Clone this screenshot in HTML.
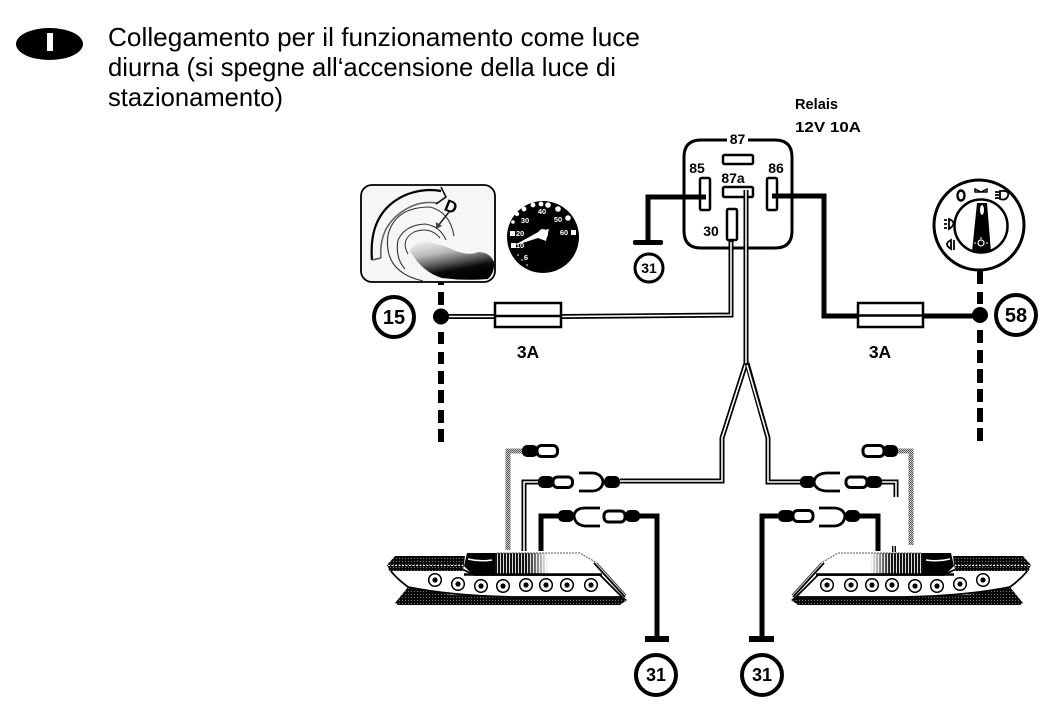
<!DOCTYPE html>
<html><head><meta charset="utf-8"><style>
html,body{margin:0;padding:0;background:#fff;width:1042px;height:716px;overflow:hidden}
svg{display:block}
text{font-family:"Liberation Sans",sans-serif;fill:#000}
.b{font-weight:bold}
.t{font-size:26px}
.w{fill:none;stroke:#000;stroke-width:5;stroke-linejoin:miter}
.wi{fill:none;stroke:#fff;stroke-width:1.6;stroke-linejoin:miter}
.th{fill:none;stroke:#000;stroke-width:5;stroke-linejoin:miter}
.o{fill:#fff;stroke:#000;stroke-width:3}
.f{fill:none;stroke:#000;stroke-width:2.8}
</style></head><body>
<svg width="1042" height="716" viewBox="0 0 1042 716" xmlns="http://www.w3.org/2000/svg">
<defs>
<pattern id="dg" width="2" height="2" patternUnits="userSpaceOnUse"><rect width="2" height="2" fill="#ccc"/><rect width="1" height="1" fill="#555"/><rect x="1" y="1" width="1" height="1" fill="#555"/></pattern>
<pattern id="dk" width="3" height="3" patternUnits="userSpaceOnUse"><rect width="3" height="3" fill="#0a0a0a"/><rect width="1" height="1" fill="#777"/></pattern>
<pattern id="hat" width="3" height="3" patternUnits="userSpaceOnUse"><rect width="3" height="3" fill="#ddd"/><rect width="2" height="3" fill="#111"/></pattern>
<linearGradient id="fade" x1="0" x2="1" y1="0" y2="0"><stop offset="0" stop-color="#fff" stop-opacity="0"/><stop offset=".6" stop-color="#fff" stop-opacity="0"/><stop offset="1" stop-color="#fff" stop-opacity="1"/></linearGradient>
<linearGradient id="key" x1="0.05" y1="0" x2="0.45" y2="1"><stop offset="0" stop-color="#f2f2f2"/><stop offset=".35" stop-color="#bbb"/><stop offset=".62" stop-color="#555"/><stop offset=".8" stop-color="#0a0a0a"/><stop offset="1" stop-color="#000"/></linearGradient>
<g id="lamp">
<path d="M395 603L408 587L452 595L515 596L622 596L627 600L620 605H398Z" fill="url(#dk)"/>
<path d="M390 570L464 570L474 575L600 575L622 597L515 597Q452 596 408 587Q396 578 390 570Z" fill="#fff" stroke="#000" stroke-width="1.800"/>
<path d="M395 556L465 556L463 571L390 571L387 565Z" fill="url(#dk)"/>
<path d="M388 565.500H463" stroke="#fff" stroke-width="1" stroke-dasharray="2 1.500"/>
<path d="M467 553L497 553L495 575L473 575L464 566Z" fill="#000"/>
<path d="M468 559Q480 562 492 560" fill="none" stroke="#fff" stroke-width="1.500"/>
<rect x="495" y="553" width="53" height="21" fill="url(#hat)"/>
<rect x="495" y="553" width="53" height="21" fill="url(#fade)"/>
<path d="M497 553L580 553L597 563" fill="none" stroke="#555" stroke-width="1" stroke-dasharray="2 1"/>
<path d="M464 574.500L602 574.500" stroke="#000" stroke-width="2.400"/>
<path d="M594 563L625 597" stroke="#000" stroke-width="1.800"/>
<path d="M597 563L626 595" stroke="#444" stroke-width="1"/>
<g fill="#fff" stroke="#000" stroke-width="1.500">
<circle cx="435" cy="580" r="6.300"/><circle cx="458" cy="584" r="6.300"/><circle cx="481" cy="586" r="6.300"/><circle cx="503" cy="586" r="6.300"/><circle cx="526" cy="585" r="6.300"/><circle cx="546" cy="585" r="6.300"/><circle cx="567" cy="585" r="6.300"/><circle cx="591" cy="585" r="6.300"/>
</g>
<g fill="#000">
<circle cx="435" cy="580" r="2.600"/><circle cx="458" cy="584" r="2.600"/><circle cx="481" cy="586" r="2.600"/><circle cx="503" cy="586" r="2.600"/><circle cx="526" cy="585" r="2.600"/><circle cx="546" cy="585" r="2.600"/><circle cx="567" cy="585" r="2.600"/><circle cx="591" cy="585" r="2.600"/>
</g>
</g>
</defs>
<rect width="1042" height="716" fill="#fff"/>

<!-- Heading -->
<ellipse cx="49.5" cy="44" rx="33.5" ry="16" fill="#000"/>
<rect x="47" y="33" width="6" height="18" fill="#fff"/>
<text class="t" x="108" y="46" textLength="532" lengthAdjust="spacingAndGlyphs">Collegamento per il funzionamento come luce</text>
<text class="t" x="108" y="76" textLength="508" lengthAdjust="spacingAndGlyphs">diurna (si spegne all‘accensione della luce di</text>
<text class="t" x="108" y="106" textLength="175" lengthAdjust="spacingAndGlyphs">stazionamento)</text>

<!-- Relay -->
<text class="b" x="795" y="109" font-size="15" textLength="43" lengthAdjust="spacingAndGlyphs">Relais</text>
<text class="b" x="795" y="132" font-size="15" textLength="66" lengthAdjust="spacingAndGlyphs">12V 10A</text>
<path d="M727 140H701Q684 140 684 157V231Q684 248 701 248H775Q792 248 792 231V157Q792 140 775 140H748" fill="none" stroke="#000" stroke-width="3"/>
<text class="b" x="737.500" y="144" font-size="14" text-anchor="middle">87</text>
<text class="b" x="697" y="173" font-size="14" text-anchor="middle">85</text>
<text class="b" x="776" y="173" font-size="14" text-anchor="middle">86</text>
<text class="b" x="733" y="183" font-size="14" text-anchor="middle">87a</text>
<text class="b" x="711" y="236" font-size="14" text-anchor="middle">30</text>
<rect x="723" y="155" width="30" height="9" rx="1.500" fill="#fff" stroke="#000" stroke-width="2.500"/>
<rect x="723" y="187" width="30" height="10" rx="1.500" fill="#fff" stroke="#000" stroke-width="2.500"/>
<rect x="700" y="178" width="10" height="32" rx="1.500" fill="#fff" stroke="#000" stroke-width="2.500"/>
<rect x="767" y="178" width="10" height="32" rx="1.500" fill="#fff" stroke="#000" stroke-width="2.500"/>
<rect x="727" y="209" width="10" height="31" rx="1.500" fill="#fff" stroke="#000" stroke-width="2.500"/>

<!-- Ground from 85 -->
<path class="th" d="M706 197H648V242"/>
<rect x="633" y="240" width="30" height="5" rx="2" fill="#000"/>
<circle cx="649" cy="268" r="14" fill="#fff" stroke="#000" stroke-width="3"/>
<text class="b" x="649" y="273" font-size="14" text-anchor="middle">31</text>

<!-- Wire 86 to 58 -->
<path class="th" d="M772 196H824V316H975"/>
<rect x="858" y="303" width="65" height="24" fill="#fff" stroke="#000" stroke-width="2.500"/>
<path d="M858 315.500H923" stroke="#000" stroke-width="2.500"/>
<g fill="#000">
<rect x="977" y="268" width="6" height="16"/><rect x="977" y="292" width="6" height="12"/><rect x="977" y="330" width="6" height="13"/><rect x="977" y="350" width="6" height="13"/><rect x="977" y="369" width="6" height="14"/><rect x="977" y="389" width="6" height="13"/><rect x="977" y="408" width="6" height="14"/><rect x="977" y="428" width="6" height="13"/>
</g>
<circle cx="980" cy="315" r="8" fill="#000"/>
<circle cx="1016" cy="315" r="20" fill="#fff" stroke="#000" stroke-width="4"/>
<text class="b" x="1016" y="322" font-size="20" text-anchor="middle">58</text>
<text class="b" x="880" y="358" font-size="17.500" text-anchor="middle">3A</text>

<!-- Light switch -->
<circle cx="979" cy="225" r="45" fill="#fff" stroke="#000" stroke-width="3"/>
<circle cx="981" cy="226" r="26.500" fill="#fff" stroke="#000" stroke-width="2.500"/>
<path d="M977 203H987L991 252Q981 255 972 252Z" fill="#000"/>
<ellipse cx="982" cy="210" rx="2" ry="5" fill="#fff"/>
<circle cx="981" cy="243" r="3" fill="none" stroke="#fff" stroke-width="1.200"/>
<path d="M974 243H976M986 243H988M981 237V239" stroke="#fff" stroke-width="1"/>
<ellipse cx="961" cy="195.500" rx="3.500" ry="5" fill="none" stroke="#000" stroke-width="2.400"/>
<path d="M975 189L981 192L975 192ZM987 189L981 192L987 192Z" fill="none" stroke="#000" stroke-width="1.400"/>
<path d="M1000 191Q1010 190 1008 196Q1006 201 1000 199ZM995 192H999M995 195H999M995 198H999" fill="none" stroke="#000" stroke-width="1.800"/>
<path d="M949 219Q958 223 949 229ZM944 220H947M944 224H947M944 228H947" fill="none" stroke="#000" stroke-width="1.800"/>
<path d="M951 240Q943 244 951 249ZM954 240V250" fill="none" stroke="#000" stroke-width="1.800"/>

<!-- Ignition switch -->
<rect x="361" y="185" width="134" height="97" rx="11" fill="#f6f6f6" stroke="#000" stroke-width="1.800"/>
<path d="M372 260Q368 210 408 194Q425 188 441 191" fill="none" stroke="#000" stroke-width="2.200"/>
<path d="M381 258Q378 222 412 206Q424 201 437 203" fill="none" stroke="#666" stroke-width="1.600"/>
<path d="M372 260L381 258" stroke="#555" stroke-width="1.500"/>
<path d="M441 187L446 197L436 204" fill="none" stroke="#000" stroke-width="1.500"/>
<path d="M423 281Q383 272 388 235Q395 207 430 207Q450 212 454 236" fill="none" stroke="#333" stroke-width="1.100"/>
<path d="M405 269Q395 258 398 240Q405 225 425 224Q440 226 446 240" fill="none" stroke="#333" stroke-width="1.100"/>
<path d="M408 254Q400 240 414 232Q430 226 440 238" fill="none" stroke="#333" stroke-width="1"/>
<text class="b" x="445" y="212" font-size="17" transform="rotate(22 450 206)">D</text>
<path d="M449 212L438 226" stroke="#222" stroke-width="1.500"/>
<path d="M436 222L436 229L442 226Z" fill="#444"/>
<path d="M410 251Q414 241 428 242Q444 245 456 251Q470 256 478 252Q490 252 494 262Q495 272 488 279Q465 281 442 278Q422 272 410 251Z" fill="url(#key)"/>

<!-- Tachometer -->
<circle cx="543" cy="237" r="36" fill="#000"/>
<g fill="#fff">
<rect x="511" y="243" width="5" height="5"/><rect x="510" y="231" width="5" height="5"/><circle cx="513" cy="222" r="1.800"/><circle cx="517" cy="214" r="2.200"/><circle cx="524" cy="209" r="2.400"/><circle cx="533" cy="205" r="2.400"/><circle cx="541" cy="204" r="2.400"/><circle cx="548" cy="205" r="2.800"/><circle cx="558" cy="209" r="2.800"/><circle cx="568" cy="218" r="2.800"/><rect x="571" y="230" width="5" height="5"/>
<circle cx="518" cy="255" r=".8"/><circle cx="522" cy="260" r=".8"/><circle cx="527" cy="265" r=".8"/>
</g>
<g class="b" font-size="7.500" font-weight="bold" text-anchor="middle">
<text x="520" y="248" style="fill:#fff">10</text><text x="520" y="236" style="fill:#fff">20</text><text x="525" y="223" style="fill:#fff">30</text><text x="542" y="214" style="fill:#fff">40</text><text x="558" y="222" style="fill:#fff">50</text><text x="564" y="235" style="fill:#fff">60</text><text x="526" y="260" style="fill:#fff">6</text>
</g>
<path d="M513 246L540 231L549 229L546 241L538 238Z" fill="#fff"/>
<circle cx="543" cy="234" r="5" fill="#fff"/>

<!-- Wire 15 to 30 -->
<g fill="#000">
<rect x="438" y="282" width="6" height="3"/><rect x="438" y="292" width="6" height="13"/><rect x="438" y="332" width="6" height="12"/><rect x="438" y="352" width="6" height="12"/><rect x="438" y="371" width="6" height="13"/><rect x="438" y="390" width="6" height="13"/><rect x="438" y="410" width="6" height="13"/><rect x="438" y="429" width="6" height="13"/>
</g>
<path class="w" d="M441 316.500H562L731 315V240"/>
<path class="wi" d="M441 316.500H562L731 315V242"/>
<rect x="495" y="303" width="66" height="24" fill="#fff" stroke="#000" stroke-width="2.500"/>
<path d="M495 316H561" stroke="#000" stroke-width="2.500"/>
<circle cx="441" cy="316.500" r="8" fill="#000"/>
<circle cx="394" cy="317" r="20" fill="#fff" stroke="#000" stroke-width="4"/>
<text class="b" x="394" y="324" font-size="20" text-anchor="middle">15</text>
<text class="b" x="528" y="358" font-size="17.500" text-anchor="middle">3A</text>

<!-- Wire from 87a with Y split -->
<path class="w" d="M746 190V363L722 438V481H620"/>
<path class="wi" d="M746 190V363L722 438V481H620"/>
<path class="w" d="M747 363L768 438V482H802"/>
<path class="wi" d="M747 365L768 438V482H802"/>

<!-- Left lamp harness -->
<path d="M524 551V482H540" class="w"/><path d="M524 551V482H540" class="wi"/>
<path d="M508 550V451H524" fill="none" stroke="url(#dg)" stroke-width="5"/>
<path class="th" d="M541 551V516H560"/>
<path class="th" d="M627 516H657V640"/>
<rect x="645" y="636" width="24" height="6" fill="#000"/>
<circle cx="656" cy="675" r="20" fill="#fff" stroke="#000" stroke-width="4"/>
<text class="b" x="656" y="681" font-size="18" text-anchor="middle">31</text>

<rect x="522" y="445" width="16" height="12" rx="5" fill="#000"/>
<rect x="537" y="445.500" width="20.500" height="11" rx="4.500" class="o"/>
<rect x="538" y="476" width="16" height="12" rx="5" fill="#000"/>
<rect x="553" y="477" width="19.500" height="10.500" rx="4.500" class="o"/>
<path d="M579 473H593Q602 474 603 482Q602 490 593 491H579" class="f"/>
<rect x="604" y="476" width="16" height="12" rx="5" fill="#000"/>
<rect x="558" y="510" width="16" height="12" rx="5" fill="#000"/>
<path d="M600 508H585Q575 508 574 516Q575 525 585 526H600" class="f"/>
<rect x="604" y="511" width="21" height="11" rx="4.500" class="o"/>
<rect x="625" y="510" width="15" height="12" rx="5" fill="#000"/>
<use href="#lamp"/>

<!-- Right lamp harness -->
<path d="M880 482H896V497" class="w"/><path d="M880 482H896V497" class="wi"/>
<path d="M894 546V552" class="w" style="stroke-width:4"/><path d="M894 546V552" class="wi" style="stroke-width:1.200"/>
<path d="M896 451H911V545" fill="none" stroke="url(#dg)" stroke-width="5"/>
<path class="th" d="M778 516H762V640"/>
<path class="th" d="M858 516H878V551"/>
<rect x="749" y="636" width="25" height="6" fill="#000"/>
<circle cx="762" cy="675" r="20" fill="#fff" stroke="#000" stroke-width="4"/>
<text class="b" x="762" y="681" font-size="18" text-anchor="middle">31</text>

<rect x="883" y="445" width="15" height="12" rx="5" fill="#000"/>
<rect x="863" y="445.500" width="21" height="11" rx="4.500" class="o"/>
<rect x="800" y="476" width="15" height="12" rx="5" fill="#000"/>
<path d="M840 473H826Q815 474 814 482Q815 490 826 491H840" class="f"/>
<rect x="846" y="477" width="21" height="10.500" rx="4.500" class="o"/>
<rect x="866" y="476" width="16" height="12" rx="5" fill="#000"/>
<rect x="778" y="510" width="16" height="12" rx="5" fill="#000"/>
<rect x="793" y="510.500" width="20" height="11" rx="4.500" class="o"/>
<path d="M819 508H835Q844 509 845 516Q844 525 835 526H819" class="f"/>
<rect x="845" y="510" width="15" height="12" rx="5" fill="#000"/>
<use href="#lamp" transform="translate(1418 0) scale(-1 1)"/>
</svg>
</body></html>
